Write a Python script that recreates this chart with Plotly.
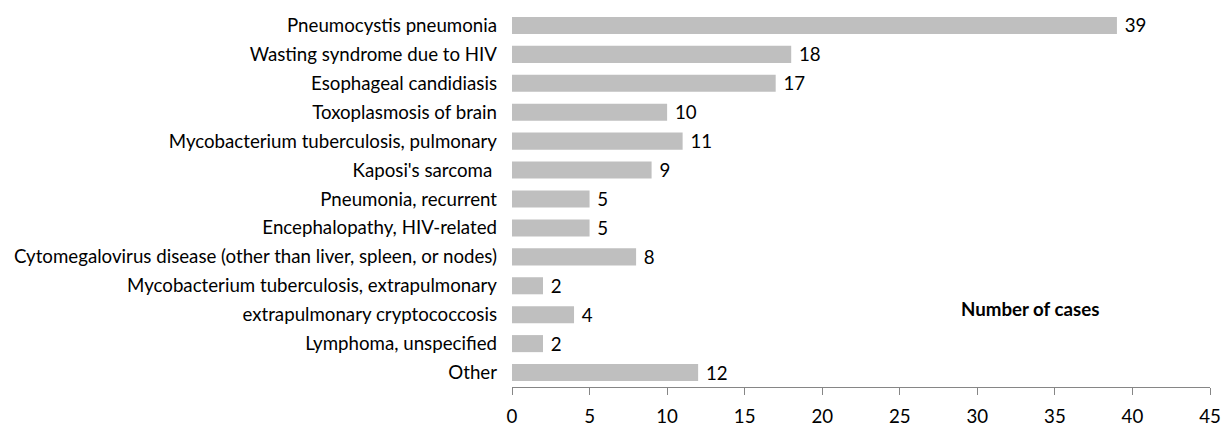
import plotly.graph_objects as go

categories = [
    "Pneumocystis pneumonia",
    "Wasting syndrome due to HIV",
    "Esophageal candidiasis",
    "Toxoplasmosis of brain",
    "Mycobacterium tuberculosis, pulmonary",
    "Kaposi's sarcoma ",
    "Pneumonia, recurrent",
    "Encephalopathy, HIV-related",
    "Cytomegalovirus disease (other than liver, spleen, or nodes)",
    "Mycobacterium tuberculosis, extrapulmonary",
    "extrapulmonary cryptococcosis",
    "Lymphoma, unspecified",
    "Other",
]
cases = [39, 18, 17, 10, 11, 9, 5, 5, 8, 2, 4, 2, 12]
x_ticks = [0, 5, 10, 15, 20, 25, 30, 35, 40, 45]
x_title = "Number of cases"

FONT = "Lato"
FS = 18.7

fig = go.Figure(go.Bar(
    x=cases,
    y=categories,
    orientation="h",
    marker=dict(color="#BFBFBF", line=dict(width=0)),
    texttemplate="\u00a0%{x}",
    textposition="outside",
    textfont=dict(family=FONT, size=FS, color="#000000"),
    cliponaxis=False,
    hoverinfo="skip",
))

fig.update_layout(
    width=1221,
    height=426,
    margin=dict(l=512, r=11, t=11, b=39),
    paper_bgcolor="white",
    plot_bgcolor="white",
    bargap=0.41,
    showlegend=False,
    font=dict(family=FONT, size=FS, color="#000000"),
    uniformtext=dict(minsize=FS, mode="show"),
    xaxis=dict(
        range=[0, 45],
        tickvals=x_ticks,
        ticktext=[str(t) for t in x_ticks],
        showgrid=False,
        zeroline=False,
        showline=True,
        linecolor="#868686",
        linewidth=1,
        ticks="outside",
        ticklen=7,
        tickcolor="#868686",
        ticklabelstandoff=6,
        automargin=False,
        tickfont=dict(family=FONT, size=FS, color="#000000"),
        fixedrange=True,
    ),
    yaxis=dict(
        categoryorder="array",
        categoryarray=categories[::-1],
        autorange=False,
        range=[-0.5, len(categories) - 0.5],
        showgrid=False,
        zeroline=False,
        showline=False,
        ticks="",
        ticklabelstandoff=14,
        automargin=False,
        tickfont=dict(family=FONT, size=FS, color="#000000"),
        fixedrange=True,
    ),
    annotations=[dict(
        text="<b>" + x_title + "</b>",
        xref="paper", yref="paper",
        x=0.742, y=0.207,
        xanchor="center", yanchor="middle",
        showarrow=False,
        font=dict(family=FONT, size=FS, color="#000000"),
    )],
)

fig.write_html(
    "out.html",
    config={"displayModeBar": False, "staticPlot": True},
    post_script="document.body.style.margin='0';document.body.style.overflow='hidden';",
)
